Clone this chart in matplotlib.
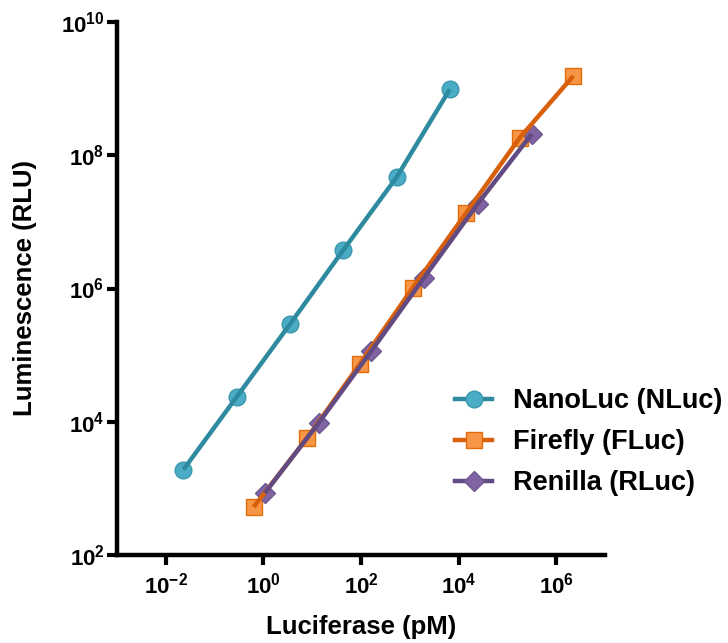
import matplotlib
matplotlib.use("Agg")
import matplotlib.pyplot as plt
from matplotlib.lines import Line2D
import numpy as np

plt.rcParams['font.family'] = ['Liberation Sans', 'DejaVu Sans']
plt.rcParams['mathtext.fontset'] = 'custom'
plt.rcParams['mathtext.rm'] = 'Liberation Sans:bold'
plt.rcParams['mathtext.bf'] = 'Liberation Sans:bold'
plt.rcParams['mathtext.it'] = 'Liberation Sans:bold'

# Data (log10 values)
nluc_logx = [-1.64, -0.55, 0.54, 1.64, 2.73, 3.82]
nluc_logy = [3.28, 4.37, 5.46, 6.58, 7.67, 8.99]
fluc_logx = [-0.20, 0.90, 1.98, 3.06, 4.16, 5.25, 6.35]
fluc_logy = [2.72, 3.76, 4.87, 6.01, 7.14, 8.26, 9.19]
rluc_logx = [0.03, 1.13, 2.21, 3.29, 4.39, 5.50]
rluc_logy = [2.93, 3.98, 5.06, 6.16, 7.27, 8.32]

labels = ['NanoLuc (NLuc)', 'Firefly (FLuc)', 'Renilla (RLuc)']
xticks = [1e-2, 1e0, 1e2, 1e4, 1e6]
xticklabels = ['$10^{-2}$', '$10^{0}$', '$10^{2}$', '$10^{4}$', '$10^{6}$']
yticks = [1e2, 1e4, 1e6, 1e8, 1e10]
yticklabels = ['$10^{2}$', '$10^{4}$', '$10^{6}$', '$10^{8}$', '$10^{10}$']

series = [
    (nluc_logx, nluc_logy, 'o', '#4BACC6', '#3A97AE', '#2E8A9E', 12),
    (fluc_logx, fluc_logy, 's', '#F79646', '#E36C0A', '#D9600A', 12),
    (rluc_logx, rluc_logy, 'D', '#8064A2', '#6E5690', '#624A82', 10.5),
]

fig = plt.figure(figsize=(7.28, 6.43), dpi=100)
ax = fig.add_axes([117/728, 1-555/643, (605-117)/728, (555-22)/643])

handles = []
for (lx, ly, m, fc, ec, lc, ms), lab in zip(series, labels):
    x = 10**np.array(lx)
    y = 10**np.array(ly)
    ax.plot(x, y, linestyle='none', marker=m, markersize=ms,
            markerfacecolor=fc, markeredgecolor=ec, markeredgewidth=1.0, zorder=3)
    ax.plot(x, y, color=lc, linewidth=3.2, zorder=4, solid_capstyle='butt')
    handles.append(Line2D([], [], color=lc, linewidth=3.2, marker=m, markersize=ms,
                          markerfacecolor=fc, markeredgecolor=ec, markeredgewidth=1.0))

ax.set_xscale('log')
ax.set_yscale('log')
ax.set_xlim(1e-3, 1e7)
ax.set_ylim(1e2, 1e10)
ax.set_xticks(xticks)
ax.set_xticklabels(xticklabels)
ax.set_yticks(yticks)
ax.set_yticklabels(yticklabels)
ax.minorticks_off()

for s in ['top', 'right']:
    ax.spines[s].set_visible(False)
for s in ['left', 'bottom']:
    ax.spines[s].set_linewidth(3.2)
ax.tick_params(axis='both', which='major', length=7, width=3, direction='out',
               labelsize=16, color='black')
ax.tick_params(axis='x', pad=6)
ax.tick_params(axis='y', pad=2)

ax.set_xlabel('Luciferase (pM)', fontsize=18.5, fontweight='bold')
ax.set_ylabel('Luminescence (RLU)', fontsize=18.5, fontweight='bold')
ax.xaxis.set_label_coords(0.5, -0.112)
ax.yaxis.set_label_coords(-0.164, 0.5)

leg = fig.legend(handles, labels, loc='upper left',
                 bbox_to_anchor=(455/728, 1-388/643), frameon=False,
                 prop={'family': 'Liberation Sans', 'weight': 'bold', 'size': 19.5},
                 handlelength=1.37, handletextpad=0.78, labelspacing=0.56,
                 borderaxespad=0, borderpad=0)

fig.savefig('out.png', dpi=100)
